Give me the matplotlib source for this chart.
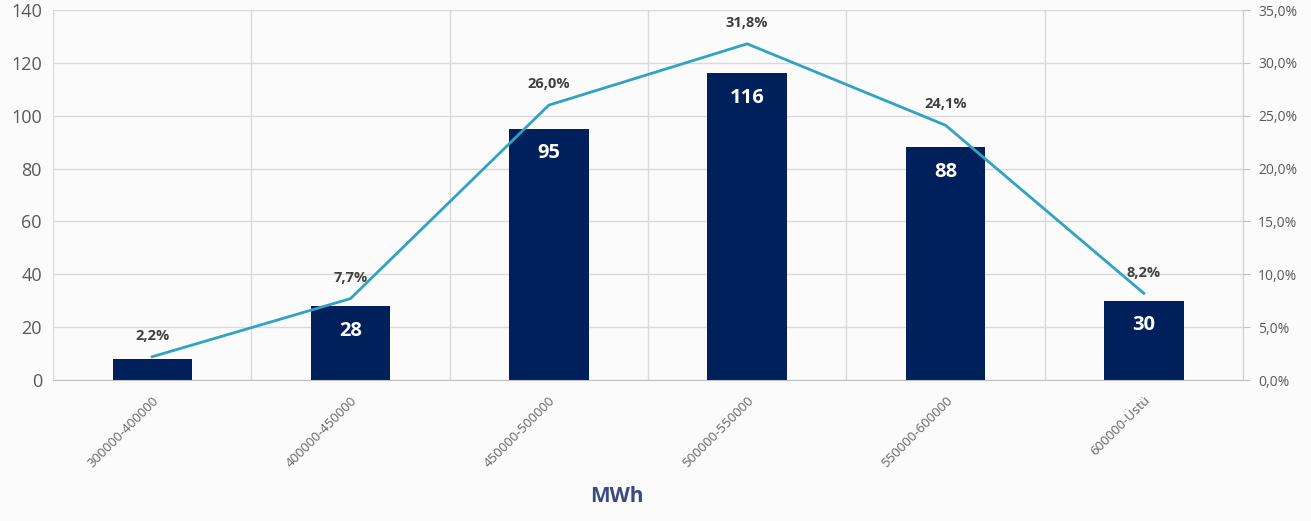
import matplotlib.pyplot as plt
import numpy as np

plt.rcParams['font.family'] = ['Open Sans', 'DejaVu Sans']

# data
categories = ['300000-400000', '400000-450000', '450000-500000',
              '500000-550000', '550000-600000', '600000-Üstü']
counts = [8, 28, 95, 116, 88, 30]
shares = [2.2, 7.7, 26.0, 31.8, 24.1, 8.2]

bar_color = '#00205b'
line_color = '#2fa3c1'
grid_color = '#d9d9d9'
text_gray = '#595959'

fig = plt.figure(figsize=(13.11, 5.21), dpi=100)
fig.patch.set_facecolor('#fbfbfc')
ax = fig.add_axes([53 / 1311, 1 - 380 / 521, (1243 - 53) / 1311, 370 / 521])
ax.set_facecolor('none')

x = np.arange(len(categories))
ax.bar(x, counts, width=0.4, color=bar_color, zorder=2)
ax.set_xlim(-0.5, len(categories) - 0.5)
ax.set_ylim(0, 140)
ax.set_yticks(range(0, 141, 20))

# grid lines, vertical ones sit between categories
ax.grid(axis='y', color=grid_color, lw=1, zorder=0)
for b in np.arange(-0.5, len(categories) - 0.4, 1):
    ax.axvline(b, color=grid_color, lw=1, zorder=0)

ax.set_xticks(x)
ax.set_xticklabels(categories, rotation=45, ha='right', rotation_mode='anchor',
                   fontsize=9.5, color='#666666')
ax.tick_params(axis='x', length=0, pad=10)
ax.tick_params(axis='y', length=0, labelsize=13, colors=text_gray, pad=8)
for s in ['top', 'right', 'left']:
    ax.spines[s].set_visible(False)
ax.spines['bottom'].set_color('#bfbfbf')

for xi, c in zip(x, counts):
    if c >= 20:
        ax.text(xi, c - 5.5, str(c), ha='center', va='top', color='white',
                fontsize=14.5, fontweight='bold', zorder=3)

ax2 = ax.twinx()
ax2.plot(x, shares, color=line_color, lw=2, zorder=4)
ax2.set_ylim(0, 35)
ax2.set_yticks(range(0, 36, 5))
ax2.set_yticklabels([f'{v:.1f}%'.replace('.', ',') for v in range(0, 36, 5)],
                    fontsize=10, color=text_gray)
ax2.tick_params(axis='y', length=5, color='#bfbfbf', pad=6)
for s in ['top', 'left', 'bottom']:
    ax2.spines[s].set_visible(False)
ax2.spines['right'].set_color('#d0d0d0')

for xi, p in zip(x, shares):
    ax2.text(xi, p + 1.3, f'{p:.1f}%'.replace('.', ','), ha='center', va='bottom',
             fontsize=10.5, fontweight='bold', color='#404040')

fig.text(617 / 1311, 1 - 497 / 521, 'MWh', ha='center', va='center',
         fontsize=15, fontweight='bold', color='#3b4a80')

fig.savefig('out.png', dpi=100, facecolor=fig.get_facecolor())
